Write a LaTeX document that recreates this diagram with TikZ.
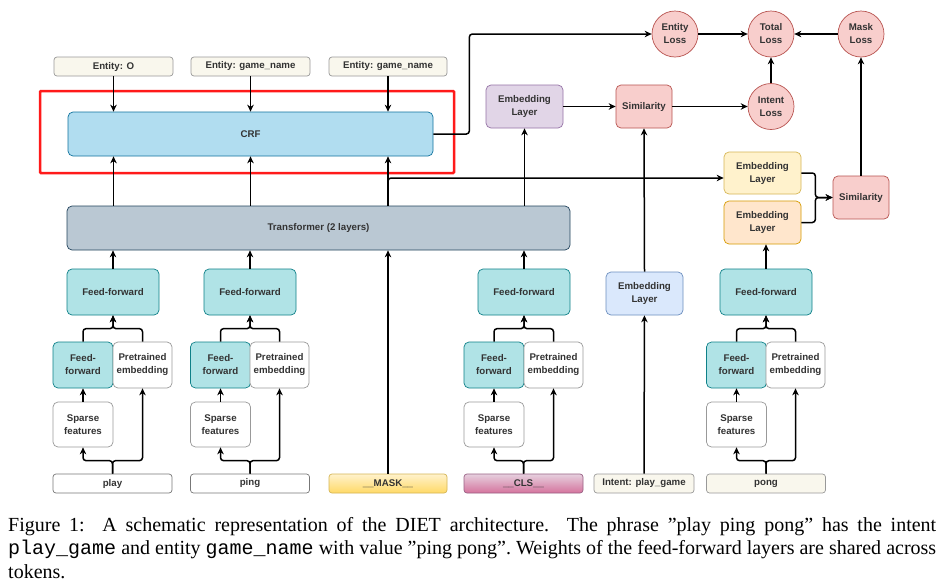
\documentclass[tikz,border=0pt]{standalone}
\usepackage{fontspec}
\setmainfont{Liberation Serif}
\setsansfont{Liberation Sans}
\setmonofont{Liberation Mono}
\usetikzlibrary{arrows.meta}

\definecolor{txtgray}{HTML}{333333}
\definecolor{linegray}{HTML}{999999}
\definecolor{tokline}{HTML}{777777}
\definecolor{beige}{HTML}{F9F7ED}
\definecolor{crffill}{HTML}{B1DDF0}
\definecolor{crfline}{HTML}{10739E}
\definecolor{tffill}{HTML}{BAC8D3}
\definecolor{tfline}{HTML}{23445D}
\definecolor{fffill}{HTML}{B0E3E6}
\definecolor{ffline}{HTML}{0E8088}
\definecolor{simfill}{HTML}{F8CECC}
\definecolor{simline}{HTML}{B85450}
\definecolor{purpfill}{HTML}{E1D5E7}
\definecolor{purpline}{HTML}{9673A6}
\definecolor{yelfill}{HTML}{FFF2CC}
\definecolor{yelline}{HTML}{D6B656}
\definecolor{orfill}{HTML}{FFE6CC}
\definecolor{orline}{HTML}{D79B00}
\definecolor{bluefill}{HTML}{DAE8FC}
\definecolor{blueline}{HTML}{6C8EBF}
\definecolor{maskbot}{HTML}{FFD966}
\definecolor{clstop}{HTML}{E6D0DE}
\definecolor{clsbot}{HTML}{D5739D}
\definecolor{clsline}{HTML}{996185}
\definecolor{hilite}{HTML}{FF1A1A}

\begin{document}
\begin{tikzpicture}[x=1pt, y=-1pt,
    base/.style={rounded corners=5pt, line width=0.7pt, inner sep=0pt, align=center,
        text=txtgray, font=\sffamily\bfseries\fontsize{9.7}{13}\selectfont},
    tagbox/.style={base, rounded corners=3pt, draw=linegray, fill=beige,
        minimum width=119pt, minimum height=19pt},
    ffbig/.style={base, draw=ffline, fill=fffill, minimum width=92pt, minimum height=46pt},
    ffsmall/.style={base, draw=ffline, fill=fffill, minimum width=60pt, minimum height=46pt},
    plainbox/.style={base, draw=linegray, fill=white, minimum width=59pt, minimum height=46pt},
    embbox/.style={base, minimum width=77pt, minimum height=43pt},
    simbox/.style={base, draw=simline, fill=simfill, minimum width=56pt, minimum height=43pt},
    loss/.style={base, circle, draw=simline, fill=simfill, minimum size=46pt},
    arr/.style={-{Stealth[length=7pt,width=6.5pt]}, line width=1.5pt, rounded corners=3pt}]

    \path[fill=white] (0,0) rectangle (942,587);
    \useasboundingbox (0,0) rectangle (942,587);

    % entity labels and CRF
    \node (entO) [tagbox] at (113.5,66.5) {Entity: O};
    \node (entG1) [tagbox] at (250.5,66.5) {Entity: game\_name};
    \node (entG2) [tagbox, minimum width=118pt] at (388,66.5) {Entity: game\_name};
    \node (crf) [base, draw=crfline, fill=crffill, minimum width=365pt, minimum height=44pt] at (250.5,134) {CRF};
    \draw[hilite, line width=2.5pt, rounded corners=1pt] (40,91) rectangle (454,173);

    \node (trans) [base, draw=tfline, fill=tffill, minimum width=503pt, minimum height=44pt] at (318.5,228) {Transformer (2 layers)};

    % token columns
    \node (ffPlay) [ffbig] at (113,292) {Feed-forward};
    \node (ffPing) [ffbig] at (250,292) {Feed-forward};
    \node (ffCls) [ffbig] at (524,292) {Feed-forward};
    \node (ffPong) [ffbig] at (766,292) {Feed-forward};

    \node (sffPlay) [ffsmall] at (83,365) {Feed-\\forward};
    \node (prePlay) [plainbox] at (142.5,365) {Pretrained\\embedding};
    \node (sffPing) [ffsmall] at (220.5,365) {Feed-\\forward};
    \node (prePing) [plainbox] at (279.5,365) {Pretrained\\embedding};
    \node (sffCls) [ffsmall] at (494,365) {Feed-\\forward};
    \node (preCls) [plainbox] at (553.5,365) {Pretrained\\embedding};
    \node (sffPong) [ffsmall] at (736.5,365) {Feed-\\forward};
    \node (prePong) [plainbox] at (795.5,365) {Pretrained\\embedding};

    \node (spPlay) [plainbox, minimum width=60pt, minimum height=45pt] at (83,424.5) {Sparse\\features};
    \node (spPing) [plainbox, minimum width=60pt, minimum height=45pt] at (220.5,424.5) {Sparse\\features};
    \node (spCls) [plainbox, minimum width=60pt, minimum height=45pt] at (494,424.5) {Sparse\\features};
    \node (spPong) [plainbox, minimum width=60pt, minimum height=45pt] at (736.5,424.5) {Sparse\\features};

    \node (tokPlay) [tagbox, draw=tokline, fill=white] at (112.5,483.5) {play};
    \node (tokPing) [tagbox, draw=tokline, fill=white] at (250,483.5) {ping};
    \node (tokMask) [tagbox, draw=yelline, top color=yelfill, bottom color=maskbot, minimum width=118pt] at (388,483.5) {\_\_MASK\_\_};
    \node (tokCls) [tagbox, draw=clsline, top color=clstop, bottom color=clsbot] at (523.5,483.5) {\_\_CLS\_\_};
    \node (intent) [tagbox, minimum width=100pt] at (644,483.5) {Intent: play\_game};
    \node (tokPong) [tagbox] at (766,483.5) {pong};

    % embeddings, similarities and losses
    \node (embIntent) [embbox, draw=blueline, fill=bluefill] at (644.5,293.5) {Embedding\\Layer};
    \node (embCls) [embbox, draw=purpline, fill=purpfill] at (524.5,106.5) {Embedding\\Layer};
    \node (simIntent) [simbox] at (644,106.5) {Similarity};
    \node (embMask) [embbox, draw=yelline, fill=yelfill, minimum height=42pt] at (762.5,173) {Embedding\\Layer};
    \node (embPong) [embbox, draw=orline, fill=orfill] at (762.5,222.5) {Embedding\\Layer};
    \node (simMask) [simbox] at (861,197.5) {Similarity};

    \node (lossEnt) [loss] at (675,34) {Entity\\Loss};
    \node (lossTot) [loss] at (771,34) {Total\\Loss};
    \node (lossMask) [loss] at (861,34) {Mask\\Loss};
    \node (lossInt) [loss] at (771,106.5) {Intent\\Loss};

    % arrows inside the token columns
    \draw[arr] (tokPlay.north) -- ++(0,-13) -| (spPlay.south);
    \draw[arr] (tokPlay.north) -- ++(0,-13) -| (prePlay.south);
    \draw[arr] (tokPing.north) -- ++(0,-13) -| (spPing.south);
    \draw[arr] (tokPing.north) -- ++(0,-13) -| (prePing.south);
    \draw[arr] (tokCls.north) -- ++(0,-13) -| (spCls.south);
    \draw[arr] (tokCls.north) -- ++(0,-13) -| (preCls.south);
    \draw[arr] (tokPong.north) -- ++(0,-13) -| (spPong.south);
    \draw[arr] (tokPong.north) -- ++(0,-13) -| (prePong.south);

    \draw[arr] (spPlay) -- (sffPlay);
    \draw[arr] (spPing) -- (sffPing);
    \draw[arr] (spCls) -- (sffCls);
    \draw[arr] (spPong) -- (sffPong);

    \draw[arr] (sffPlay.north) -- ++(0,-13) -| (ffPlay.south);
    \draw[arr] (prePlay.north) -- ++(0,-13) -| (ffPlay.south);
    \draw[arr] (sffPing.north) -- ++(0,-13) -| (ffPing.south);
    \draw[arr] (prePing.north) -- ++(0,-13) -| (ffPing.south);
    \draw[arr] (sffCls.north) -- ++(0,-13) -| (ffCls.south);
    \draw[arr] (preCls.north) -- ++(0,-13) -| (ffCls.south);
    \draw[arr] (sffPong.north) -- ++(0,-13) -| (ffPong.south);
    \draw[arr] (prePong.north) -- ++(0,-13) -| (ffPong.south);

    % into the transformer
    \draw[arr] (ffPlay.north) -- (ffPlay.north |- trans.south);
    \draw[arr] (ffPing.north) -- (ffPing.north |- trans.south);
    \draw[arr] (tokMask.north) -- (tokMask.north |- trans.south);
    \draw[arr] (ffCls.north) -- (ffCls.north |- trans.south);
    \draw[arr] (ffPong.north) -- (ffPong.north |- embPong.south);

    % transformer outputs
    \draw[arr] (trans.north -| entO) -- (crf.south -| entO);
    \draw[arr] (trans.north -| entG1) -- (crf.south -| entG1);
    \draw[arr] (trans.north -| entG2) -- (crf.south -| entG2);
    \draw[arr] (trans.north -| entG2) |- ([yshift=-5pt]embMask.west);
    \draw[arr] (trans.north -| embCls) -- (embCls.south);
    \draw[arr] (entO.south) -- (entO.south |- crf.north);
    \draw[arr] (entG1.south) -- (entG1.south |- crf.north);
    \draw[arr] (entG2.south) -- (entG2.south |- crf.north);

    % losses
    \draw[arr] (crf.east) -- ++(36,0) |- (lossEnt.west);
    \draw[arr] (embCls) -- (simIntent);
    \draw[arr] (intent) -- (embIntent);
    \draw[arr] (embIntent.north) -- (simIntent.south);
    \draw[arr] (simIntent) -- (lossInt);
    \draw[arr] (embMask.east) -- ++(14,0) |- (simMask.west);
    \draw[arr] (embPong.east) -- ++(14,0) |- (simMask.west);
    \draw[arr] (simMask) -- (lossMask);
    \draw[arr] (lossEnt) -- (lossTot);
    \draw[arr] (lossMask) -- (lossTot);
    \draw[arr] (lossInt) -- (lossTot);

    % caption
    \node (caption) [anchor=north west, text width=928pt, inner sep=0pt, align=justify,
        font=\frenchspacing\fontsize{20}{23.5}\selectfont] at (8,517)
        {Figure 1:\ \ A schematic representation of the DIET architecture.\ \ The phrase ”play ping pong” has the intent\linebreak
        \texttt{play\_game} and entity \texttt{game\_name} with value ”ping pong”. Weights of the feed-forward layers are shared across\linebreak
        tokens.};
\end{tikzpicture}
\end{document}
